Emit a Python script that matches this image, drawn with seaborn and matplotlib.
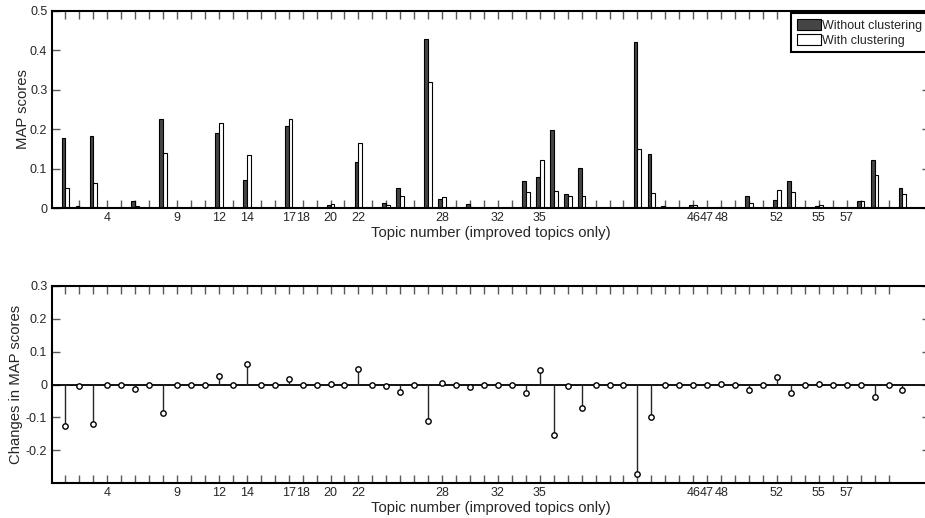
import pandas as pd
import matplotlib
matplotlib.use("Agg")
import matplotlib.pyplot as plt
import seaborn as sns

# topic index (improved topics only), 1..61
topics = list(range(1, 62))

map_without = [0.179, 0.007, 0.184, 0.0, 0.0, 0.018, 0.002, 0.227, 0.0, 0.001,
               0.0, 0.190, 0.0, 0.072, 0.002, 0.001, 0.207, 0.0, 0.0, 0.008,
               0.0, 0.116, 0.0, 0.014, 0.052, 0.001, 0.428, 0.024, 0.003, 0.011,
               0.001, 0.0, 0.001, 0.069, 0.078, 0.197, 0.035, 0.103, 0.0, 0.0,
               0.0, 0.422, 0.137, 0.005, 0.0, 0.008, 0.0, 0.003, 0.0, 0.030,
               0.0, 0.022, 0.069, 0.0, 0.005, 0.0, 0.0, 0.019, 0.122, 0.0,
               0.051]

map_with = [0.052, 0.003, 0.063, 0.0, 0.0, 0.005, 0.001, 0.140, 0.0, 0.001,
            0.0, 0.215, 0.0, 0.134, 0.002, 0.001, 0.225, 0.0, 0.0, 0.010,
            0.0, 0.164, 0.0, 0.009, 0.030, 0.001, 0.319, 0.029, 0.001, 0.004,
            0.001, 0.0, 0.001, 0.042, 0.121, 0.044, 0.032, 0.030, 0.0, 0.0,
            0.0, 0.151, 0.039, 0.003, 0.0, 0.008, 0.0, 0.002, 0.0, 0.013,
            0.0, 0.046, 0.042, 0.0, 0.008, 0.0, 0.0, 0.019, 0.085, 0.0,
            0.035]

map_change = [-0.127, -0.004, -0.121, 0.0, 0.0, -0.013, 0.0, -0.087, 0.0, 0.0,
              0.0, 0.025, 0.0, 0.062, 0.0, 0.0, 0.018, 0.0, 0.0, 0.001,
              0.0, 0.048, 0.0, -0.005, -0.022, 0.0, -0.110, 0.005, -0.002, -0.007,
              0.0, 0.0, 0.0, -0.027, 0.044, -0.153, -0.004, -0.072, 0.0, 0.0,
              0.0, -0.271, -0.098, 0.0, 0.0, 0.0, 0.0, 0.001, 0.0, -0.017,
              0.0, 0.024, -0.027, 0.0, 0.002, 0.0, 0.0, 0.0, -0.037, 0.0,
              -0.016]

series_names = ["Without clustering", "With clustering"]
labelled_ticks = [4, 9, 12, 14, 17, 18, 20, 22, 28, 32, 35, 46, 47, 48, 52, 55, 57]
tick_positions = list(range(1, 61))


def style_axes(ax):
    for side in ["left", "right", "top", "bottom"]:
        ax.spines[side].set_visible(True)
        ax.spines[side].set_color("black")
        ax.spines[side].set_linewidth(1.5)
    ax.tick_params(axis="both", direction="in", length=6, width=1.0,
                   color="0.35", labelsize=9, pad=3,
                   top=True, right=True, bottom=True, left=True)
    ax.set_xlim(0, 63)
    ax.set_xticks(tick_positions)
    ax.set_xticklabels([str(t) if t in labelled_ticks else "" for t in tick_positions])
    ax.set_xlabel("Topic number (improved topics only)", fontsize=10.7, labelpad=1)


def main():
    sns.set_style("white")
    plt.rcParams["font.family"] = ["Liberation Sans", "DejaVu Sans"]
    plt.rcParams["axes.unicode_minus"] = False

    df = pd.DataFrame({
        "topic": topics * 2,
        "score": map_without + map_with,
        "method": [series_names[0]] * len(topics) + [series_names[1]] * len(topics),
    })

    fig = plt.figure(figsize=(9.25, 5.18), dpi=100)
    W, H = 925.0, 518.0
    left = 51.5 / W
    width = (930.4 - 51.5) / W
    ax1 = fig.add_axes([left, 1 - 208.3 / H, width, (208.3 - 10.7) / H])
    ax2 = fig.add_axes([left, 1 - 483.3 / H, width, (483.3 - 285.7) / H])

    # top: grouped bars
    sns.barplot(data=df, x="topic", y="score", hue="method", hue_order=series_names,
                palette=["#454545", "white"], native_scale=True, width=0.55,
                errorbar=None, edgecolor="black", linewidth=0.8, gap=0, ax=ax1)
    style_axes(ax1)
    ax1.set_ylim(0, 0.5)
    ax1.set_yticks([0, 0.1, 0.2, 0.3, 0.4, 0.5])
    ax1.set_yticklabels(["0", "0.1", "0.2", "0.3", "0.4", "0.5"])
    ax1.set_ylabel("MAP scores", fontsize=10.7, labelpad=0)
    sns.move_legend(ax1, "upper right", bbox_to_anchor=(0.997, 0.987), title=None,
                    frameon=True, fontsize=9, fancybox=False, borderpad=0.45,
                    labelspacing=0.15, handlelength=1.9, handleheight=1.0,
                    handletextpad=0.12, borderaxespad=0.0)
    leg = ax1.get_legend()
    leg.get_frame().set_edgecolor("black")
    leg.get_frame().set_linewidth(1.5)
    leg.get_frame().set_alpha(1)

    # bottom: stem plot of changes
    ax2.axhline(0, color="black", lw=1.3, zorder=1)
    ax2.vlines(topics, 0, map_change, color="0.15", lw=1.0, zorder=2)
    sns.scatterplot(x=topics, y=map_change, marker="o", s=15, color="white",
                    edgecolor="black", linewidth=1.0, zorder=3, ax=ax2)
    style_axes(ax2)
    ax2.set_ylim(-0.3, 0.3)
    ax2.set_yticks([-0.2, -0.1, 0, 0.1, 0.2, 0.3])
    ax2.set_yticklabels(["-0.2", "-0.1", "0", "0.1", "0.2", "0.3"])
    ax2.set_ylabel("Changes in MAP scores", fontsize=10.7, labelpad=2)

    fig.savefig("out.png", dpi=100)


if __name__ == "__main__":
    main()
